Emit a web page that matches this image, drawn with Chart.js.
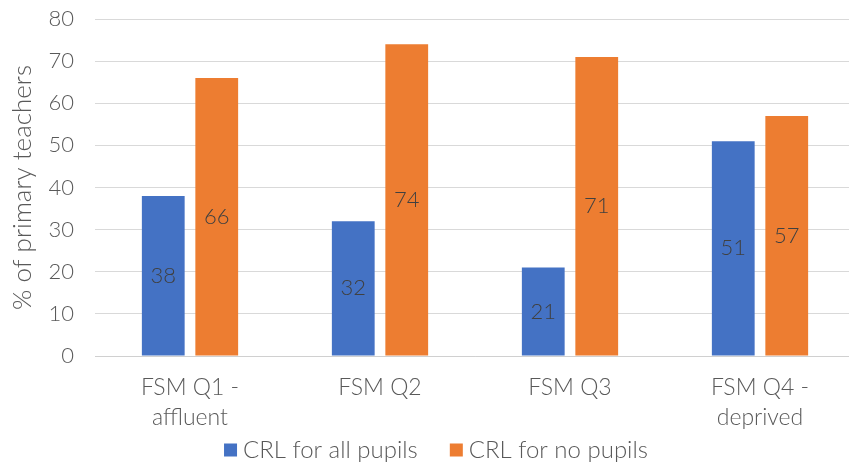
<!DOCTYPE html>
<html>
<head>
<meta charset="utf-8">
<script src="https://cdn.jsdelivr.net/npm/chart.js@4"></script>
<style>
  html, body { margin: 0; padding: 0; background: #fff; overflow: hidden; }
  #wrap { width: 855px; height: 462px; }
</style>
</head>
<body>
<div id="wrap"><canvas id="myChart"></canvas></div>
<script>
// datos
const categories = [['FSM Q1 -', 'affluent'], 'FSM Q2', 'FSM Q3', ['FSM Q4 -', 'deprived']];
const allPupils = [38, 32, 21, 51];
const noPupils = [66, 74, 71, 57];
const seriesNames = ['CRL for all pupils', 'CRL for no pupils'];
const yTicks = [0, 10, 20, 30, 40, 50, 60, 70, 80];

const FONT = 'Lato';
const GREY = '#595959';

// etiquetas de valor en el centro de cada barra
const barLabels = {
    id: 'barLabels',
    afterDatasetsDraw(chart) {
        const ctx = chart.ctx;
        ctx.save();
        ctx.font = '300 22px ' + FONT;
        ctx.fillStyle = '#404040';
        ctx.textAlign = 'center';
        ctx.textBaseline = 'middle';
        chart.data.datasets.forEach((ds, i) => {
            chart.getDatasetMeta(i).data.forEach((bar, j) => {
                const mid = (bar.y + bar.base) / 2;
                ctx.fillText(String(ds.data[j]), bar.x, mid);
            });
        });
        ctx.restore();
    }
};

// leyenda dibujada a mano (cuadrado pequeño + texto, como en Excel)
const bottomLegend = {
    id: 'bottomLegend',
    afterDraw(chart) {
        const ctx = chart.ctx;
        const box = 13, gap = 6, between = 32, centerX = 436, centerY = 450;
        ctx.save();
        ctx.font = '300 24px ' + FONT;
        ctx.textBaseline = 'middle';
        const items = chart.data.datasets.map(ds => ({
            text: ds.label, color: ds.backgroundColor, w: ctx.measureText(ds.label).width
        }));
        let total = 0;
        items.forEach((it, i) => { total += box + gap + it.w + (i ? between : 0); });
        let x = centerX - total / 2;
        items.forEach(it => {
            ctx.fillStyle = it.color;
            ctx.fillRect(x, centerY - box / 2, box, box);
            x += box + gap;
            ctx.fillStyle = GREY;
            ctx.fillText(it.text, x, centerY);
            x += it.w + between;
        });
        ctx.restore();
    }
};

let ctx = document.getElementById('myChart').getContext('2d');

let myChart = new Chart(ctx, {
    type: 'bar',
    data: {
        labels: categories,
        datasets: [
            {
                label: seriesNames[0],
                data: allPupils,
                backgroundColor: '#4472C4',
                categoryPercentage: 0.563,
                barPercentage: 0.8
            },
            {
                label: seriesNames[1],
                data: noPupils,
                backgroundColor: '#ED7D31',
                categoryPercentage: 0.563,
                barPercentage: 0.8
            }
        ]
    },
    options: {
        responsive: true,
        maintainAspectRatio: false,
        animation: false,
        layout: { padding: { top: 8, right: 0, bottom: 29, left: 0 } },
        plugins: {
            tooltip: { enabled: false },
            legend: { display: false }
        },
        scales: {
            x: {
                grid: { display: false, drawTicks: false },
                border: { color: '#d0d0d0', width: 1 },
                afterFit(scale) { scale.height = 77; },
                ticks: {
                    color: GREY,
                    padding: 17,
                    maxRotation: 0,
                    font: { family: FONT, size: 23, weight: '300', lineHeight: 1.3 }
                }
            },
            y: {
                min: 0,
                max: 80,
                afterBuildTicks(scale) {
                    scale.ticks = yTicks.map(v => ({ value: v }));
                },
                afterFit(scale) {
                    scale.width = 95;
                    scale.paddingTop = 19;
                },
                grid: { color: '#d9d9d9', lineWidth: 1, drawTicks: false },
                border: { display: false },
                ticks: {
                    color: GREY,
                    padding: 21,
                    font: { family: FONT, size: 22, weight: '300' }
                },
                title: {
                    display: true,
                    text: '% of primary teachers',
                    color: GREY,
                    padding: { top: 7, bottom: 0 },
                    font: { family: FONT, size: 26, weight: '300' }
                }
            }
        }
    },
    plugins: [barLabels, bottomLegend]
});
</script>
</body>
</html>
